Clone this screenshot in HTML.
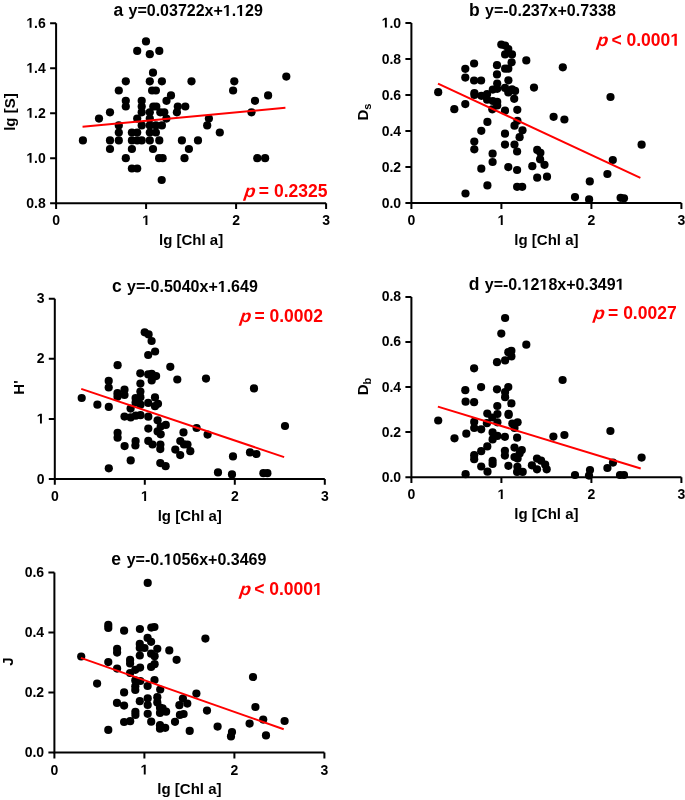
<!DOCTYPE html><html><head><meta charset="utf-8"><style>html,body{margin:0;padding:0;background:#fff;}svg{display:block;will-change:transform}</style></head><body>
<svg width="685" height="800" viewBox="0 0 685 800" font-family='"Liberation Sans", sans-serif' font-weight="bold">
<rect width="685" height="800" fill="#fff"/>
<g><path d="M56.10 23.20V203.20H326.10" fill="none" stroke="#000" stroke-width="2"/><path d="M50.10 203.20H56.10M50.10 158.20H56.10M50.10 113.20H56.10M50.10 68.20H56.10M50.10 23.20H56.10M56.10 203.20V209.00M146.10 203.20V209.00M236.10 203.20V209.00M326.10 203.20V209.00" fill="none" stroke="#000" stroke-width="2"/><text x="26.34" y="207.70" font-size="14">0.8</text><text x="26.34" y="162.70" font-size="14"> .0</text><path d="M478 0L478 1170L140 959L140 1180L493 1409L759 1409L759 0Z" transform="translate(26.34 162.70) scale(0.006836 -0.006836)"/><text x="26.34" y="117.70" font-size="14"> .2</text><path d="M478 0L478 1170L140 959L140 1180L493 1409L759 1409L759 0Z" transform="translate(26.34 117.70) scale(0.006836 -0.006836)"/><text x="26.34" y="72.70" font-size="14"> .4</text><path d="M478 0L478 1170L140 959L140 1180L493 1409L759 1409L759 0Z" transform="translate(26.34 72.70) scale(0.006836 -0.006836)"/><text x="26.34" y="27.70" font-size="14"> .6</text><path d="M478 0L478 1170L140 959L140 1180L493 1409L759 1409L759 0Z" transform="translate(26.34 27.70) scale(0.006836 -0.006836)"/><text x="52.21" y="225.10" font-size="14">0</text><text x="142.21" y="225.10" font-size="14"> </text><path d="M478 0L478 1170L140 959L140 1180L493 1409L759 1409L759 0Z" transform="translate(142.21 225.10) scale(0.006836 -0.006836)"/><text x="232.21" y="225.10" font-size="14">2</text><text x="322.21" y="225.10" font-size="14">3</text><text x="191.10" y="244.70" font-size="15" text-anchor="middle">lg [Chl a]</text><text transform="translate(14.60,112.10) rotate(-90)" font-size="15" text-anchor="middle">lg [S]</text><text x="113.50" y="16.00" font-size="17.5">a</text><text x="128.50" y="16.00" font-size="16">y=0.03722x+ . 29</text><path d="M478 0L478 1170L140 959L140 1180L493 1409L759 1409L759 0Z" transform="translate(222.82 16.00) scale(0.007812 -0.007812)"/><path d="M478 0L478 1170L140 959L140 1180L493 1409L759 1409L759 0Z" transform="translate(236.16 16.00) scale(0.007812 -0.007812)"/><text transform="translate(243.85 196.50) skewX(-7.3) scale(1.05 1)" font-size="17.5" fill="#f00" font-style="italic">p</text><text x="258.85" y="196.50" font-size="17.5" fill="#f00">= 0.2325</text><circle cx="146.0" cy="41.4" r="4.1"/><circle cx="137.2" cy="50.9" r="4.1"/><circle cx="159.3" cy="50.9" r="4.1"/><circle cx="149.8" cy="54.2" r="4.1"/><circle cx="153.0" cy="72.7" r="4.1"/><circle cx="286.3" cy="76.6" r="4.1"/><circle cx="125.8" cy="81.3" r="4.1"/><circle cx="149.8" cy="81.3" r="4.1"/><circle cx="161.9" cy="81.3" r="4.1"/><circle cx="191.5" cy="81.3" r="4.1"/><circle cx="234.3" cy="81.3" r="4.1"/><circle cx="118.8" cy="90.5" r="4.1"/><circle cx="152.1" cy="90.5" r="4.1"/><circle cx="155.9" cy="90.5" r="4.1"/><circle cx="233.1" cy="90.5" r="4.1"/><circle cx="171.0" cy="95.4" r="4.1"/><circle cx="268.1" cy="95.4" r="4.1"/><circle cx="125.8" cy="100.8" r="4.1"/><circle cx="141.7" cy="100.8" r="4.1"/><circle cx="166.5" cy="100.8" r="4.1"/><circle cx="255.0" cy="100.8" r="4.1"/><circle cx="125.8" cy="106.5" r="4.1"/><circle cx="141.7" cy="106.5" r="4.1"/><circle cx="153.3" cy="106.5" r="4.1"/><circle cx="156.3" cy="106.5" r="4.1"/><circle cx="177.8" cy="106.5" r="4.1"/><circle cx="185.3" cy="106.5" r="4.1"/><circle cx="110.0" cy="112.3" r="4.1"/><circle cx="141.7" cy="112.3" r="4.1"/><circle cx="149.8" cy="112.3" r="4.1"/><circle cx="160.3" cy="112.3" r="4.1"/><circle cx="164.3" cy="112.3" r="4.1"/><circle cx="176.9" cy="112.3" r="4.1"/><circle cx="251.5" cy="112.3" r="4.1"/><circle cx="99.0" cy="118.6" r="4.1"/><circle cx="137.2" cy="118.6" r="4.1"/><circle cx="149.8" cy="118.6" r="4.1"/><circle cx="166.4" cy="118.6" r="4.1"/><circle cx="208.9" cy="118.6" r="4.1"/><circle cx="118.8" cy="125.4" r="4.1"/><circle cx="141.7" cy="125.4" r="4.1"/><circle cx="149.8" cy="125.4" r="4.1"/><circle cx="155.9" cy="125.4" r="4.1"/><circle cx="161.9" cy="125.4" r="4.1"/><circle cx="207.2" cy="125.4" r="4.1"/><circle cx="118.8" cy="132.5" r="4.1"/><circle cx="131.9" cy="132.5" r="4.1"/><circle cx="137.2" cy="132.5" r="4.1"/><circle cx="149.8" cy="132.5" r="4.1"/><circle cx="155.9" cy="132.5" r="4.1"/><circle cx="219.8" cy="132.5" r="4.1"/><circle cx="82.9" cy="140.4" r="4.1"/><circle cx="110.0" cy="140.4" r="4.1"/><circle cx="118.8" cy="140.4" r="4.1"/><circle cx="131.9" cy="140.4" r="4.1"/><circle cx="137.2" cy="140.4" r="4.1"/><circle cx="141.7" cy="140.4" r="4.1"/><circle cx="149.8" cy="140.4" r="4.1"/><circle cx="159.3" cy="140.4" r="4.1"/><circle cx="181.9" cy="140.4" r="4.1"/><circle cx="198.0" cy="140.4" r="4.1"/><circle cx="110.0" cy="149.0" r="4.1"/><circle cx="131.9" cy="149.0" r="4.1"/><circle cx="153.0" cy="149.0" r="4.1"/><circle cx="188.9" cy="149.0" r="4.1"/><circle cx="125.8" cy="158.2" r="4.1"/><circle cx="159.1" cy="158.2" r="4.1"/><circle cx="162.6" cy="158.2" r="4.1"/><circle cx="184.5" cy="158.2" r="4.1"/><circle cx="257.3" cy="158.2" r="4.1"/><circle cx="265.1" cy="158.2" r="4.1"/><circle cx="131.9" cy="168.5" r="4.1"/><circle cx="137.2" cy="168.5" r="4.1"/><circle cx="161.7" cy="180.0" r="4.1"/><line x1="82.56" y1="126.71" x2="285.42" y2="107.84" stroke="#f00" stroke-width="2"/></g>
<g><path d="M411.40 23.00V203.10H681.40" fill="none" stroke="#000" stroke-width="2"/><path d="M405.40 203.10H411.40M405.40 167.08H411.40M405.40 131.06H411.40M405.40 95.04H411.40M405.40 59.02H411.40M405.40 23.00H411.40M411.40 203.10V208.90M501.40 203.10V208.90M591.40 203.10V208.90M681.40 203.10V208.90" fill="none" stroke="#000" stroke-width="2"/><text x="381.64" y="207.60" font-size="14">0.0</text><text x="381.64" y="171.58" font-size="14">0.2</text><text x="381.64" y="135.56" font-size="14">0.4</text><text x="381.64" y="99.54" font-size="14">0.6</text><text x="381.64" y="63.52" font-size="14">0.8</text><text x="381.64" y="27.50" font-size="14"> .0</text><path d="M478 0L478 1170L140 959L140 1180L493 1409L759 1409L759 0Z" transform="translate(381.64 27.50) scale(0.006836 -0.006836)"/><text x="407.51" y="225.00" font-size="14">0</text><text x="497.51" y="225.00" font-size="14"> </text><path d="M478 0L478 1170L140 959L140 1180L493 1409L759 1409L759 0Z" transform="translate(497.51 225.00) scale(0.006836 -0.006836)"/><text x="587.51" y="225.00" font-size="14">2</text><text x="677.51" y="225.00" font-size="14">3</text><text x="546.40" y="244.60" font-size="15" text-anchor="middle">lg [Chl a]</text><text transform="translate(368.10,112.00) rotate(-90)" font-size="15" text-anchor="middle">D<tspan font-size="11" dy="3">s</tspan></text><text x="468.90" y="15.70" font-size="17.5">b</text><text x="485.00" y="15.70" font-size="16">y=-0.237x+0.7338</text><text transform="translate(596.45 45.70) skewX(-7.3) scale(1.05 1)" font-size="17.5" fill="#f00" font-style="italic">p</text><text x="611.45" y="45.70" font-size="17.5" fill="#f00">< 0.000 </text><path d="M478 0L478 1170L140 959L140 1180L493 1409L759 1409L759 0Z" transform="translate(670.33 45.70) scale(0.008545 -0.008545)" fill="#f00"/><circle cx="438.2" cy="92.2" r="4.1"/><circle cx="454.3" cy="109.2" r="4.1"/><circle cx="465.3" cy="68.8" r="4.1"/><circle cx="465.3" cy="77.6" r="4.1"/><circle cx="465.3" cy="104.1" r="4.1"/><circle cx="474.1" cy="63.5" r="4.1"/><circle cx="474.1" cy="80.5" r="4.1"/><circle cx="481.1" cy="80.5" r="4.1"/><circle cx="474.4" cy="93.0" r="4.1"/><circle cx="474.4" cy="94.9" r="4.1"/><circle cx="481.4" cy="95.8" r="4.1"/><circle cx="487.1" cy="94.0" r="4.1"/><circle cx="487.1" cy="99.7" r="4.1"/><circle cx="492.8" cy="89.6" r="4.1"/><circle cx="497.2" cy="88.8" r="4.1"/><circle cx="497.2" cy="83.5" r="4.1"/><circle cx="497.0" cy="65.2" r="4.1"/><circle cx="497.0" cy="74.4" r="4.1"/><circle cx="501.3" cy="44.6" r="4.1"/><circle cx="505.1" cy="45.5" r="4.1"/><circle cx="508.3" cy="49.0" r="4.1"/><circle cx="505.1" cy="54.4" r="4.1"/><circle cx="512.0" cy="54.4" r="4.1"/><circle cx="511.6" cy="62.3" r="4.1"/><circle cx="505.1" cy="68.7" r="4.1"/><circle cx="508.3" cy="68.7" r="4.1"/><circle cx="526.3" cy="60.4" r="4.1"/><circle cx="508.4" cy="80.3" r="4.1"/><circle cx="505.0" cy="87.9" r="4.1"/><circle cx="508.3" cy="92.5" r="4.1"/><circle cx="512.0" cy="89.3" r="4.1"/><circle cx="515.1" cy="90.9" r="4.1"/><circle cx="492.8" cy="101.0" r="4.1"/><circle cx="497.2" cy="101.9" r="4.1"/><circle cx="497.2" cy="105.4" r="4.1"/><circle cx="492.3" cy="109.3" r="4.1"/><circle cx="505.0" cy="110.7" r="4.1"/><circle cx="514.2" cy="98.8" r="4.1"/><circle cx="517.3" cy="109.8" r="4.1"/><circle cx="487.4" cy="121.9" r="4.1"/><circle cx="481.3" cy="130.8" r="4.1"/><circle cx="474.3" cy="141.6" r="4.1"/><circle cx="474.3" cy="149.3" r="4.1"/><circle cx="492.6" cy="153.7" r="4.1"/><circle cx="492.6" cy="162.0" r="4.1"/><circle cx="481.3" cy="168.7" r="4.1"/><circle cx="487.4" cy="185.4" r="4.1"/><circle cx="465.5" cy="193.5" r="4.1"/><circle cx="517.4" cy="120.8" r="4.1"/><circle cx="514.5" cy="125.7" r="4.1"/><circle cx="522.5" cy="130.3" r="4.1"/><circle cx="505.0" cy="133.7" r="4.1"/><circle cx="519.6" cy="137.2" r="4.1"/><circle cx="505.0" cy="144.6" r="4.1"/><circle cx="514.5" cy="144.6" r="4.1"/><circle cx="517.1" cy="151.5" r="4.1"/><circle cx="508.3" cy="167.1" r="4.1"/><circle cx="517.1" cy="170.0" r="4.1"/><circle cx="517.1" cy="186.8" r="4.1"/><circle cx="522.2" cy="186.8" r="4.1"/><circle cx="537.2" cy="149.9" r="4.1"/><circle cx="540.4" cy="152.8" r="4.1"/><circle cx="540.1" cy="159.3" r="4.1"/><circle cx="544.5" cy="164.8" r="4.1"/><circle cx="532.3" cy="166.2" r="4.1"/><circle cx="537.2" cy="177.7" r="4.1"/><circle cx="547.0" cy="176.7" r="4.1"/><circle cx="562.8" cy="67.3" r="4.1"/><circle cx="534.0" cy="87.6" r="4.1"/><circle cx="610.5" cy="97.0" r="4.1"/><circle cx="553.6" cy="116.8" r="4.1"/><circle cx="564.4" cy="119.5" r="4.1"/><circle cx="641.6" cy="144.7" r="4.1"/><circle cx="612.8" cy="160.0" r="4.1"/><circle cx="607.4" cy="174.0" r="4.1"/><circle cx="589.8" cy="181.4" r="4.1"/><circle cx="575.0" cy="197.1" r="4.1"/><circle cx="589.1" cy="199.4" r="4.1"/><circle cx="620.6" cy="197.8" r="4.1"/><circle cx="624.0" cy="198.3" r="4.1"/><line x1="438.00" y1="83.60" x2="640.40" y2="177.80" stroke="#f00" stroke-width="2"/></g>
<g><path d="M54.80 298.80V479.00H324.80" fill="none" stroke="#000" stroke-width="2"/><path d="M48.80 479.00H54.80M48.80 418.93H54.80M48.80 358.87H54.80M48.80 298.80H54.80M54.80 479.00V484.80M144.80 479.00V484.80M234.80 479.00V484.80M324.80 479.00V484.80" fill="none" stroke="#000" stroke-width="2"/><text x="36.71" y="483.50" font-size="14">0</text><text x="36.71" y="423.43" font-size="14"> </text><path d="M478 0L478 1170L140 959L140 1180L493 1409L759 1409L759 0Z" transform="translate(36.71 423.43) scale(0.006836 -0.006836)"/><text x="36.71" y="363.37" font-size="14">2</text><text x="36.71" y="303.30" font-size="14">3</text><text x="50.91" y="500.90" font-size="14">0</text><text x="140.91" y="500.90" font-size="14"> </text><path d="M478 0L478 1170L140 959L140 1180L493 1409L759 1409L759 0Z" transform="translate(140.91 500.90) scale(0.006836 -0.006836)"/><text x="230.91" y="500.90" font-size="14">2</text><text x="320.91" y="500.90" font-size="14">3</text><text x="189.80" y="520.50" font-size="15" text-anchor="middle">lg [Chl a]</text><text transform="translate(24.00,387.50) rotate(-90)" font-size="15" text-anchor="middle">H'</text><text x="112.00" y="292.00" font-size="17.5">c</text><text x="127.00" y="292.00" font-size="16">y=-0.5040x+ .649</text><path d="M478 0L478 1170L140 959L140 1180L493 1409L759 1409L759 0Z" transform="translate(217.75 292.00) scale(0.007812 -0.007812)"/><text transform="translate(239.45 321.90) skewX(-7.3) scale(1.05 1)" font-size="17.5" fill="#f00" font-style="italic">p</text><text x="254.45" y="321.90" font-size="17.5" fill="#f00">= 0.0002</text><circle cx="144.7" cy="332.3" r="4.1"/><circle cx="148.6" cy="334.4" r="4.1"/><circle cx="151.6" cy="341.0" r="4.1"/><circle cx="155.1" cy="351.5" r="4.1"/><circle cx="148.2" cy="355.0" r="4.1"/><circle cx="117.6" cy="365.2" r="4.1"/><circle cx="170.3" cy="366.8" r="4.1"/><circle cx="140.3" cy="373.3" r="4.1"/><circle cx="148.2" cy="374.4" r="4.1"/><circle cx="151.7" cy="373.9" r="4.1"/><circle cx="156.1" cy="376.1" r="4.1"/><circle cx="151.7" cy="380.5" r="4.1"/><circle cx="177.3" cy="379.5" r="4.1"/><circle cx="108.7" cy="380.9" r="4.1"/><circle cx="108.7" cy="387.5" r="4.1"/><circle cx="117.5" cy="393.2" r="4.1"/><circle cx="117.5" cy="396.7" r="4.1"/><circle cx="124.5" cy="389.7" r="4.1"/><circle cx="124.5" cy="395.0" r="4.1"/><circle cx="108.8" cy="406.9" r="4.1"/><circle cx="140.4" cy="383.6" r="4.1"/><circle cx="140.4" cy="391.6" r="4.1"/><circle cx="140.4" cy="397.2" r="4.1"/><circle cx="135.6" cy="398.1" r="4.1"/><circle cx="135.6" cy="402.4" r="4.1"/><circle cx="140.5" cy="404.7" r="4.1"/><circle cx="148.2" cy="402.9" r="4.1"/><circle cx="155.0" cy="397.4" r="4.1"/><circle cx="155.0" cy="406.2" r="4.1"/><circle cx="158.0" cy="403.8" r="4.1"/><circle cx="130.6" cy="408.6" r="4.1"/><circle cx="81.7" cy="398.0" r="4.1"/><circle cx="97.4" cy="404.7" r="4.1"/><circle cx="124.5" cy="416.6" r="4.1"/><circle cx="130.7" cy="417.4" r="4.1"/><circle cx="135.8" cy="415.7" r="4.1"/><circle cx="140.5" cy="415.2" r="4.1"/><circle cx="148.3" cy="416.7" r="4.1"/><circle cx="157.6" cy="420.3" r="4.1"/><circle cx="165.8" cy="424.9" r="4.1"/><circle cx="160.7" cy="426.6" r="4.1"/><circle cx="148.3" cy="428.6" r="4.1"/><circle cx="157.6" cy="431.4" r="4.1"/><circle cx="160.7" cy="434.3" r="4.1"/><circle cx="183.5" cy="432.4" r="4.1"/><circle cx="117.6" cy="432.8" r="4.1"/><circle cx="117.6" cy="437.7" r="4.1"/><circle cx="124.6" cy="446.1" r="4.1"/><circle cx="135.6" cy="441.1" r="4.1"/><circle cx="135.4" cy="445.5" r="4.1"/><circle cx="148.3" cy="440.9" r="4.1"/><circle cx="152.5" cy="444.5" r="4.1"/><circle cx="160.4" cy="444.5" r="4.1"/><circle cx="160.3" cy="449.1" r="4.1"/><circle cx="180.3" cy="441.0" r="4.1"/><circle cx="184.0" cy="444.4" r="4.1"/><circle cx="187.5" cy="444.6" r="4.1"/><circle cx="190.3" cy="451.2" r="4.1"/><circle cx="175.3" cy="449.6" r="4.1"/><circle cx="180.2" cy="455.1" r="4.1"/><circle cx="130.7" cy="460.4" r="4.1"/><circle cx="108.8" cy="468.3" r="4.1"/><circle cx="160.3" cy="463.1" r="4.1"/><circle cx="165.6" cy="466.2" r="4.1"/><circle cx="206.0" cy="378.6" r="4.1"/><circle cx="254.0" cy="388.4" r="4.1"/><circle cx="285.0" cy="426.0" r="4.1"/><circle cx="196.6" cy="428.0" r="4.1"/><circle cx="207.6" cy="434.6" r="4.1"/><circle cx="233.0" cy="456.4" r="4.1"/><circle cx="250.0" cy="452.4" r="4.1"/><circle cx="256.4" cy="454.0" r="4.1"/><circle cx="218.0" cy="472.4" r="4.1"/><circle cx="232.0" cy="474.4" r="4.1"/><circle cx="263.4" cy="473.2" r="4.1"/><circle cx="267.4" cy="473.2" r="4.1"/><line x1="81.26" y1="388.85" x2="284.12" y2="457.09" stroke="#f00" stroke-width="2"/></g>
<g><path d="M411.40 296.90V477.20H681.40" fill="none" stroke="#000" stroke-width="2"/><path d="M405.40 477.20H411.40M405.40 432.12H411.40M405.40 387.05H411.40M405.40 341.98H411.40M405.40 296.90H411.40M411.40 477.20V483.00M501.40 477.20V483.00M591.40 477.20V483.00M681.40 477.20V483.00" fill="none" stroke="#000" stroke-width="2"/><text x="381.64" y="481.70" font-size="14">0.0</text><text x="381.64" y="436.62" font-size="14">0.2</text><text x="381.64" y="391.55" font-size="14">0.4</text><text x="381.64" y="346.48" font-size="14">0.6</text><text x="381.64" y="301.40" font-size="14">0.8</text><text x="407.51" y="499.10" font-size="14">0</text><text x="497.51" y="499.10" font-size="14"> </text><path d="M478 0L478 1170L140 959L140 1180L493 1409L759 1409L759 0Z" transform="translate(497.51 499.10) scale(0.006836 -0.006836)"/><text x="587.51" y="499.10" font-size="14">2</text><text x="677.51" y="499.10" font-size="14">3</text><text x="546.40" y="518.70" font-size="15" text-anchor="middle">lg [Chl a]</text><text transform="translate(368.10,386.50) rotate(-90)" font-size="15" text-anchor="middle">D<tspan font-size="11" dy="3">b</tspan></text><text x="468.80" y="289.70" font-size="17.5">d</text><text x="484.80" y="289.70" font-size="16">y=-0. 2 8x+0.349 </text><path d="M478 0L478 1170L140 959L140 1180L493 1409L759 1409L759 0Z" transform="translate(521.71 289.70) scale(0.007812 -0.007812)"/><path d="M478 0L478 1170L140 959L140 1180L493 1409L759 1409L759 0Z" transform="translate(539.51 289.70) scale(0.007812 -0.007812)"/><path d="M478 0L478 1170L140 959L140 1180L493 1409L759 1409L759 0Z" transform="translate(615.59 289.70) scale(0.007812 -0.007812)"/><text transform="translate(593.05 319.10) skewX(-7.3) scale(1.05 1)" font-size="17.5" fill="#f00" font-style="italic">p</text><text x="608.05" y="319.10" font-size="17.5" fill="#f00">= 0.0027</text><circle cx="505.1" cy="318.0" r="4.1"/><circle cx="501.3" cy="333.6" r="4.1"/><circle cx="526.3" cy="344.7" r="4.1"/><circle cx="508.3" cy="352.2" r="4.1"/><circle cx="511.4" cy="350.8" r="4.1"/><circle cx="511.4" cy="356.4" r="4.1"/><circle cx="505.1" cy="360.4" r="4.1"/><circle cx="497.0" cy="362.2" r="4.1"/><circle cx="474.1" cy="368.3" r="4.1"/><circle cx="481.1" cy="387.1" r="4.1"/><circle cx="465.3" cy="390.2" r="4.1"/><circle cx="497.0" cy="389.3" r="4.1"/><circle cx="508.3" cy="387.1" r="4.1"/><circle cx="505.1" cy="392.0" r="4.1"/><circle cx="505.1" cy="397.2" r="4.1"/><circle cx="465.6" cy="401.7" r="4.1"/><circle cx="474.1" cy="402.2" r="4.1"/><circle cx="497.3" cy="406.0" r="4.1"/><circle cx="511.4" cy="403.4" r="4.1"/><circle cx="487.3" cy="413.6" r="4.1"/><circle cx="497.4" cy="414.0" r="4.1"/><circle cx="508.6" cy="413.9" r="4.1"/><circle cx="508.6" cy="414.9" r="4.1"/><circle cx="492.2" cy="417.5" r="4.1"/><circle cx="474.2" cy="421.9" r="4.1"/><circle cx="486.9" cy="423.2" r="4.1"/><circle cx="497.4" cy="422.3" r="4.1"/><circle cx="512.3" cy="423.6" r="4.1"/><circle cx="517.6" cy="422.3" r="4.1"/><circle cx="514.5" cy="428.0" r="4.1"/><circle cx="474.2" cy="428.0" r="4.1"/><circle cx="481.2" cy="429.3" r="4.1"/><circle cx="466.3" cy="433.7" r="4.1"/><circle cx="492.6" cy="432.4" r="4.1"/><circle cx="497.4" cy="435.9" r="4.1"/><circle cx="492.6" cy="439.4" r="4.1"/><circle cx="504.9" cy="436.8" r="4.1"/><circle cx="517.1" cy="437.7" r="4.1"/><circle cx="487.3" cy="446.4" r="4.1"/><circle cx="481.2" cy="451.2" r="4.1"/><circle cx="474.2" cy="455.2" r="4.1"/><circle cx="474.2" cy="459.2" r="4.1"/><circle cx="504.9" cy="450.8" r="4.1"/><circle cx="504.9" cy="455.6" r="4.1"/><circle cx="514.5" cy="447.6" r="4.1"/><circle cx="521.8" cy="450.0" r="4.1"/><circle cx="519.6" cy="453.5" r="4.1"/><circle cx="514.5" cy="457.1" r="4.1"/><circle cx="517.6" cy="458.6" r="4.1"/><circle cx="492.6" cy="460.8" r="4.1"/><circle cx="492.6" cy="464.0" r="4.1"/><circle cx="508.4" cy="465.8" r="4.1"/><circle cx="517.4" cy="466.8" r="4.1"/><circle cx="517.1" cy="471.9" r="4.1"/><circle cx="522.7" cy="471.9" r="4.1"/><circle cx="487.5" cy="471.7" r="4.1"/><circle cx="537.0" cy="458.6" r="4.1"/><circle cx="541.1" cy="460.7" r="4.1"/><circle cx="531.9" cy="465.3" r="4.1"/><circle cx="537.0" cy="469.3" r="4.1"/><circle cx="545.2" cy="464.7" r="4.1"/><circle cx="546.7" cy="469.3" r="4.1"/><circle cx="553.4" cy="436.6" r="4.1"/><circle cx="438.2" cy="420.5" r="4.1"/><circle cx="454.5" cy="438.3" r="4.1"/><circle cx="465.6" cy="474.2" r="4.1"/><circle cx="481.2" cy="466.5" r="4.1"/><circle cx="562.6" cy="380.0" r="4.1"/><circle cx="564.4" cy="435.0" r="4.1"/><circle cx="610.4" cy="431.0" r="4.1"/><circle cx="641.6" cy="457.6" r="4.1"/><circle cx="613.0" cy="462.6" r="4.1"/><circle cx="607.4" cy="468.0" r="4.1"/><circle cx="590.0" cy="470.0" r="4.1"/><circle cx="589.0" cy="475.6" r="4.1"/><circle cx="575.0" cy="475.0" r="4.1"/><circle cx="620.0" cy="475.0" r="4.1"/><circle cx="624.0" cy="475.0" r="4.1"/><line x1="437.86" y1="406.59" x2="640.72" y2="468.47" stroke="#f00" stroke-width="2"/></g>
<g><path d="M54.40 572.60V752.60H324.40" fill="none" stroke="#000" stroke-width="2"/><path d="M48.40 752.60H54.40M48.40 692.60H54.40M48.40 632.60H54.40M48.40 572.60H54.40M54.40 752.60V758.40M144.40 752.60V758.40M234.40 752.60V758.40M324.40 752.60V758.40" fill="none" stroke="#000" stroke-width="2"/><text x="24.64" y="757.10" font-size="14">0.0</text><text x="24.64" y="697.10" font-size="14">0.2</text><text x="24.64" y="637.10" font-size="14">0.4</text><text x="24.64" y="577.10" font-size="14">0.6</text><text x="50.51" y="774.50" font-size="14">0</text><text x="140.51" y="774.50" font-size="14"> </text><path d="M478 0L478 1170L140 959L140 1180L493 1409L759 1409L759 0Z" transform="translate(140.51 774.50) scale(0.006836 -0.006836)"/><text x="230.51" y="774.50" font-size="14">2</text><text x="320.51" y="774.50" font-size="14">3</text><text x="189.40" y="794.10" font-size="15" text-anchor="middle">lg [Chl a]</text><text transform="translate(13.30,661.50) rotate(-90)" font-size="15" text-anchor="middle">J</text><text x="111.30" y="564.80" font-size="17.5">e</text><text x="126.70" y="564.80" font-size="16">y=-0. 056x+0.3469</text><path d="M478 0L478 1170L140 959L140 1180L493 1409L759 1409L759 0Z" transform="translate(163.61 564.80) scale(0.007812 -0.007812)"/><text transform="translate(239.15 595.10) skewX(-7.3) scale(1.05 1)" font-size="17.5" fill="#f00" font-style="italic">p</text><text x="254.15" y="595.10" font-size="17.5" fill="#f00">< 0.000 </text><path d="M478 0L478 1170L140 959L140 1180L493 1409L759 1409L759 0Z" transform="translate(313.03 595.10) scale(0.008545 -0.008545)" fill="#f00"/><circle cx="147.7" cy="582.9" r="4.1"/><circle cx="108.3" cy="624.9" r="4.1"/><circle cx="108.3" cy="627.9" r="4.1"/><circle cx="124.1" cy="630.7" r="4.1"/><circle cx="139.9" cy="629.0" r="4.1"/><circle cx="151.3" cy="627.6" r="4.1"/><circle cx="154.4" cy="627.0" r="4.1"/><circle cx="147.6" cy="637.9" r="4.1"/><circle cx="151.1" cy="641.8" r="4.1"/><circle cx="139.8" cy="643.9" r="4.1"/><circle cx="139.8" cy="648.0" r="4.1"/><circle cx="144.5" cy="648.0" r="4.1"/><circle cx="117.1" cy="648.8" r="4.1"/><circle cx="117.1" cy="652.6" r="4.1"/><circle cx="157.3" cy="648.8" r="4.1"/><circle cx="169.3" cy="650.4" r="4.1"/><circle cx="139.8" cy="655.5" r="4.1"/><circle cx="151.1" cy="653.7" r="4.1"/><circle cx="154.6" cy="656.2" r="4.1"/><circle cx="176.6" cy="659.8" r="4.1"/><circle cx="81.2" cy="656.5" r="4.1"/><circle cx="108.3" cy="662.1" r="4.1"/><circle cx="130.1" cy="659.9" r="4.1"/><circle cx="130.1" cy="663.4" r="4.1"/><circle cx="117.1" cy="668.6" r="4.1"/><circle cx="140.1" cy="667.6" r="4.1"/><circle cx="135.3" cy="669.8" r="4.1"/><circle cx="151.1" cy="666.9" r="4.1"/><circle cx="154.6" cy="664.2" r="4.1"/><circle cx="130.1" cy="673.0" r="4.1"/><circle cx="135.3" cy="680.4" r="4.1"/><circle cx="140.3" cy="681.0" r="4.1"/><circle cx="154.5" cy="680.0" r="4.1"/><circle cx="97.1" cy="683.6" r="4.1"/><circle cx="135.3" cy="686.3" r="4.1"/><circle cx="135.3" cy="690.0" r="4.1"/><circle cx="147.6" cy="686.0" r="4.1"/><circle cx="160.2" cy="689.5" r="4.1"/><circle cx="124.1" cy="692.4" r="4.1"/><circle cx="157.3" cy="697.2" r="4.1"/><circle cx="157.3" cy="702.4" r="4.1"/><circle cx="147.7" cy="698.4" r="4.1"/><circle cx="147.7" cy="705.0" r="4.1"/><circle cx="139.8" cy="701.2" r="4.1"/><circle cx="117.0" cy="702.9" r="4.1"/><circle cx="124.1" cy="705.6" r="4.1"/><circle cx="182.9" cy="698.6" r="4.1"/><circle cx="187.3" cy="703.6" r="4.1"/><circle cx="179.4" cy="705.2" r="4.1"/><circle cx="160.0" cy="707.7" r="4.1"/><circle cx="162.6" cy="708.4" r="4.1"/><circle cx="166.1" cy="711.7" r="4.1"/><circle cx="160.0" cy="712.9" r="4.1"/><circle cx="135.4" cy="711.8" r="4.1"/><circle cx="135.4" cy="714.9" r="4.1"/><circle cx="147.7" cy="713.8" r="4.1"/><circle cx="179.9" cy="714.9" r="4.1"/><circle cx="183.6" cy="714.0" r="4.1"/><circle cx="124.1" cy="722.0" r="4.1"/><circle cx="130.2" cy="721.2" r="4.1"/><circle cx="151.2" cy="721.7" r="4.1"/><circle cx="175.0" cy="721.8" r="4.1"/><circle cx="160.0" cy="725.2" r="4.1"/><circle cx="160.0" cy="728.7" r="4.1"/><circle cx="165.2" cy="727.8" r="4.1"/><circle cx="108.3" cy="729.9" r="4.1"/><circle cx="189.7" cy="730.9" r="4.1"/><circle cx="205.4" cy="638.6" r="4.1"/><circle cx="253.0" cy="677.0" r="4.1"/><circle cx="196.4" cy="693.6" r="4.1"/><circle cx="207.0" cy="710.6" r="4.1"/><circle cx="217.6" cy="726.6" r="4.1"/><circle cx="232.0" cy="732.0" r="4.1"/><circle cx="231.0" cy="736.4" r="4.1"/><circle cx="255.4" cy="707.0" r="4.1"/><circle cx="249.6" cy="723.6" r="4.1"/><circle cx="263.2" cy="719.6" r="4.1"/><circle cx="266.0" cy="735.4" r="4.1"/><circle cx="284.6" cy="721.0" r="4.1"/><line x1="80.86" y1="657.84" x2="283.72" y2="729.25" stroke="#f00" stroke-width="2"/></g>
</svg></body></html>
